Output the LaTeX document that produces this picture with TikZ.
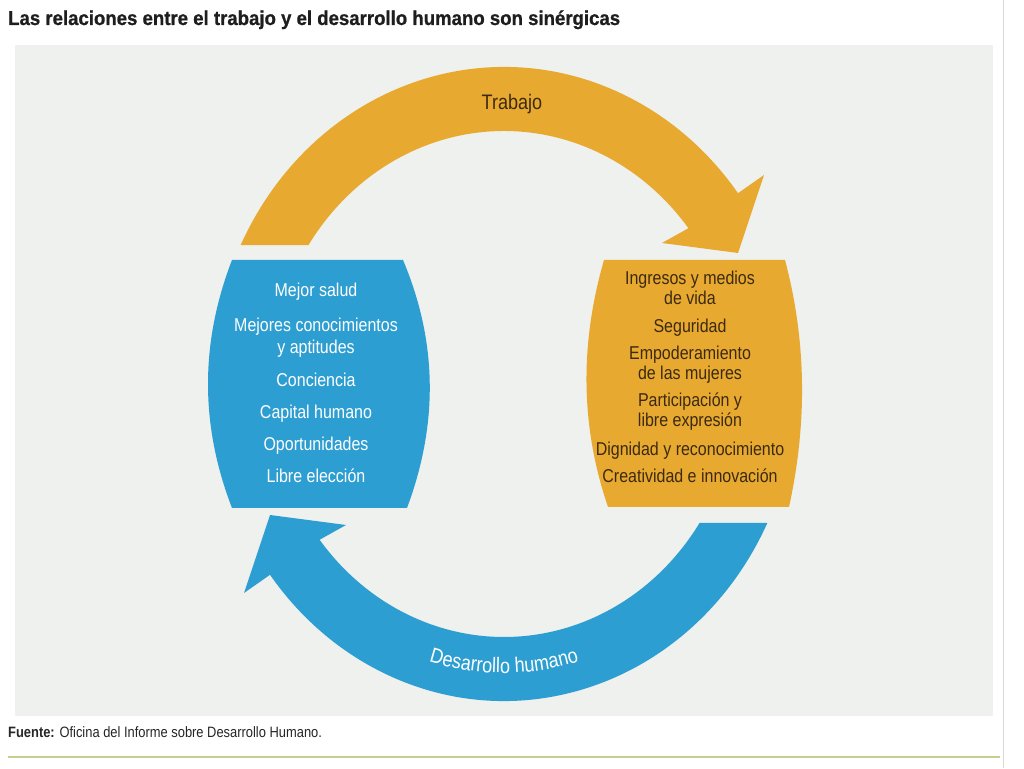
\documentclass[tikz,border=0pt]{standalone}
\usepackage{fontspec}
\setmainfont{Liberation Sans}[FakeStretch=0.86]
\newfontfamily\titlefont{Liberation Sans}[FakeStretch=0.93,FakeBold=0.8]
\usetikzlibrary{calc,decorations.text}
\definecolor{panelbg}{HTML}{EEF1ED}
\definecolor{ochre}{HTML}{E8A930}
\definecolor{skyblue}{HTML}{2C9ED1}
\definecolor{darkbrn}{HTML}{3C2A10}
\definecolor{rulegreen}{HTML}{C6CD8E}
\definecolor{titleink}{HTML}{1E1E1E}
\begin{document}
\begin{tikzpicture}[x=1pt,y=1pt,
  bluetxt/.style={anchor=base, inner sep=0pt, text=white, font=\fontsize{18.6}{20}\selectfont},
  ochretxt/.style={anchor=base, inner sep=0pt, text=darkbrn, font=\fontsize{18.6}{20}\selectfont},
  arclabel/.style={anchor=base, inner sep=0pt, font=\fontsize{21}{22}\selectfont}]
\useasboundingbox (0,0) rectangle (1024,768);
\fill[white] (0,0) rectangle (1024,768);
\fill[panelbg] (15,52) rectangle (993,723);
\draw[black!15, line width=0.8pt] (1003,0) -- (1003,768);
\coordinate (C) at (504,384);

% orange arrow (Trabajo)
\fill[ochre] ($(C)+(154:293pt and 317pt)$)
  arc[start angle=154, end angle=37, x radius=293pt, y radius=317pt]
  -- (764,593) -- (738,515) -- (662,525)
  -- ($(C)+(38:234pt and 253pt)$)
  arc[start angle=38, end angle=146.7, x radius=234pt, y radius=253pt]
  -- cycle;

% blue arrow (Desarrollo humano)
\fill[skyblue] ($(C)+(334:293pt and 317pt)$)
  arc[start angle=334, end angle=217, x radius=293pt, y radius=317pt]
  -- (244,175) -- (270,253) -- (346,243)
  -- ($(C)+(218:234pt and 253pt)$)
  arc[start angle=218, end angle=326.7, x radius=234pt, y radius=253pt]
  -- cycle;

% boxes
\fill[skyblue] (232,508) -- (403,508) .. controls (438,425) and (438,343) .. (407,260)
  -- (232,260) .. controls (200,343) and (200,425) .. cycle;
\fill[ochre] (604,508) -- (785,508) .. controls (807,425) and (807,343) .. (789,261)
  -- (608,261) .. controls (580,343) and (580,425) .. cycle;

% arc labels
\node[arclabel, text=darkbrn] (trabajo) at (512,658) {Trabajo};
\path[decorate, decoration={text along path, text align=center, text color=white,
  text={|\fontsize{21}{22}\selectfont|Desarrollo humano}}]
  ($(C)+(235:267pt and 289pt)$) arc[start angle=235, end angle=305, x radius=267pt, y radius=289pt];

% blue box text
\node[bluetxt] (b1) at (316,471) {Mejor salud};
\node[bluetxt] (b2) at (316,436) {Mejores conocimientos};
\node[bluetxt] (b3) at (316,414) {y aptitudes};
\node[bluetxt] (b4) at (316,381) {Conciencia};
\node[bluetxt] (b5) at (316,349) {Capital humano};
\node[bluetxt] (b6) at (316,317) {Oportunidades};
\node[bluetxt] (b7) at (316,285) {Libre elección};

% orange box text
\node[ochretxt] (o1) at (690,483) {Ingresos y medios};
\node[ochretxt] (o2) at (690,463) {de vida};
\node[ochretxt] (o3) at (690,435) {Seguridad};
\node[ochretxt] (o4) at (690,408) {Empoderamiento};
\node[ochretxt] (o5) at (690,388) {de las mujeres};
\node[ochretxt] (o6) at (690,361) {Participación y};
\node[ochretxt] (o7) at (690,341) {libre expresión};
\node[ochretxt] (o8) at (690,312) {Dignidad y reconocimiento};
\node[ochretxt] (o9) at (690,285) {Creatividad e innovación};

% title and source
\node[anchor=base west, inner sep=0pt, text=titleink, font=\titlefont\bfseries\fontsize{20}{22}\selectfont] (title) at (8,743)
  {Las relaciones entre el trabajo y el desarrollo humano son sinérgicas};
\node[anchor=base west, inner sep=0pt, text=black!85, font=\fontsize{15}{17}\selectfont] (source) at (8,31)
  {\textbf{Fuente:} Oficina del Informe sobre Desarrollo Humano.};
\draw[rulegreen, line width=1.5pt] (8,11) -- (1000,11);
\end{tikzpicture}
\end{document}
